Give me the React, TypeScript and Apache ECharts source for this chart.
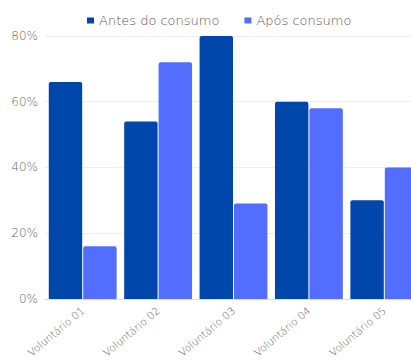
import React, { useEffect, useRef } from "react";
import * as echarts from "echarts";

const categories = ["Voluntário 01", "Voluntário 02", "Voluntário 03", "Voluntário 04", "Voluntário 05"];
const antes = [66, 54, 80, 60, 30];
const apos = [16, 72, 29, 58, 40];
const seriesNames = ["Antes do consumo", "Após consumo"];

export default function App() {
  const ref = useRef<HTMLDivElement>(null);
  useEffect(() => {
    if (!ref.current) return;
    const chart = echarts.init(ref.current, null, { renderer: "svg" });
    const font = "DejaVu Sans";
    chart.setOption({
      animation: false,
      textStyle: { fontFamily: font },
      legend: {
        top: 9,
        left: 82,
        itemWidth: 7,
        itemHeight: 6,
        itemGap: 25,
        icon: "rect",
        textStyle: { fontFamily: font, fontSize: 13, color: "#555", fontWeight: 300 },
        data: seriesNames,
      },
      grid: { left: 45, right: 0, top: 36, bottom: 60 },
      xAxis: {
        type: "category",
        data: categories,
        axisLine: { show: true, lineStyle: { color: "#ddd" } },
        axisTick: { show: false },
        axisLabel: { rotate: 40, color: "#666", fontSize: 10.5, fontFamily: font, fontWeight: 300, margin: 10 },
      },
      yAxis: {
        type: "value",
        min: 0,
        max: 80,
        interval: 20,
        axisLabel: { formatter: "{value}%", color: "#666", fontSize: 12, fontFamily: font, fontWeight: 300, margin: 7 },
        splitLine: { lineStyle: { color: "#eee" } },
        axisLine: { show: false },
        axisTick: { show: false },
      },
      series: [
        {
          name: seriesNames[0],
          type: "bar",
          data: antes,
          barGap: "3%",
          barCategoryGap: "10%",
          itemStyle: { color: "#0047ab", borderRadius: [2, 2, 0, 0] },
        },
        {
          name: seriesNames[1],
          type: "bar",
          data: apos,
          itemStyle: { color: "#536dfe", borderRadius: [2, 2, 0, 0] },
        },
      ],
    });
    return () => chart.dispose();
  }, []);
  return (
    <div style={{ position: "fixed", left: 0, top: 0, width: 411, height: 360, overflow: "hidden", background: "#fff" }}>
      <div ref={ref} style={{ width: 422, height: 360 }} />
    </div>
  );
}
